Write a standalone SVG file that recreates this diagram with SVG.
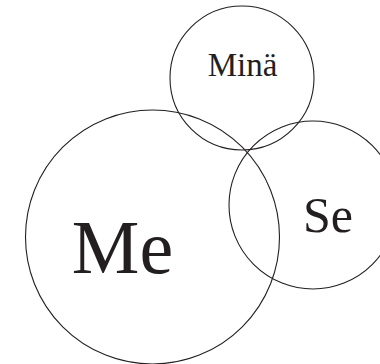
<svg xmlns="http://www.w3.org/2000/svg" width="380" height="364" viewBox="0 0 380 364">
<style>
.c{fill:none;stroke:#231f20;stroke-width:1.1}
.t{font-family:"Liberation Serif",serif;fill:#231f20;text-anchor:middle}
</style>
<rect width="380" height="364" fill="#fff"/>
<g id="mina"><circle class="c" cx="242" cy="78" r="72"/><text class="t" x="242.5" y="76" font-size="33">Minä</text></g>
<g id="me"><circle class="c" cx="152.5" cy="237" r="127"/><text class="t" x="122.5" y="273" font-size="76">Me</text></g>
<g id="se"><circle class="c" cx="313" cy="205" r="84"/><text class="t" x="328" y="232" font-size="50">Se</text></g>
<g id="connectors"/>
</svg>
